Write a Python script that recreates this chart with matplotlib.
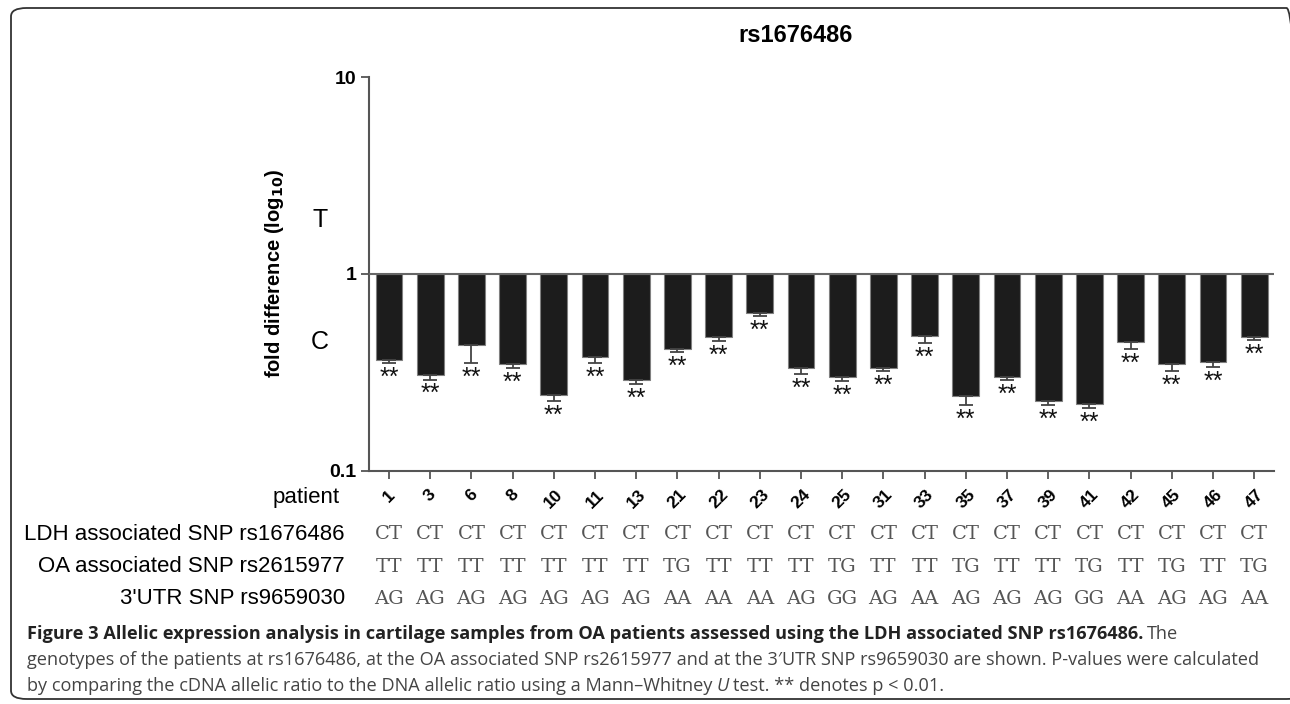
import numpy as np
import matplotlib
matplotlib.use("Agg")
import matplotlib.pyplot as plt
from matplotlib import transforms
from matplotlib.patches import FancyBboxPatch

plt.rcParams['font.family'] = ['Liberation Sans', 'DejaVu Sans']

# data
patients = ['1', '3', '6', '8', '10', '11', '13', '21', '22', '23', '24',
            '25', '31', '33', '35', '37', '39', '41', '42', '45', '46', '47']
fold = [0.365, 0.306, 0.435, 0.349, 0.243, 0.378, 0.289, 0.415, 0.479, 0.631, 0.330,
        0.297, 0.333, 0.485, 0.240, 0.299, 0.225, 0.217, 0.448, 0.349, 0.355, 0.479]
err_low = [0.350, 0.290, 0.352, 0.330, 0.226, 0.352, 0.274, 0.401, 0.453, 0.610, 0.310,
           0.285, 0.320, 0.443, 0.214, 0.287, 0.214, 0.207, 0.416, 0.320, 0.336, 0.460]

row_labels = ['LDH associated SNP rs1676486', 'OA associated SNP rs2615977',
              "3'UTR SNP rs9659030"]
ldh = ['CT'] * 22
oa = ['TT', 'TT', 'TT', 'TT', 'TT', 'TT', 'TT', 'TG', 'TT', 'TT', 'TT',
      'TG', 'TT', 'TT', 'TG', 'TT', 'TT', 'TG', 'TT', 'TG', 'TT', 'TG']
utr = ['AG', 'AG', 'AG', 'AG', 'AG', 'AG', 'AG', 'AA', 'AA', 'AA', 'AG',
       'GG', 'AG', 'AA', 'AG', 'AG', 'AG', 'GG', 'AA', 'AG', 'AG', 'AA']

W, H = 1290, 704
fig = plt.figure(figsize=(W / 100, H / 100), dpi=100)

def fx(x):
    return x / W

def fy(y):
    return 1 - y / H

# rounded frame
frame = FancyBboxPatch((fx(11), fy(699)), fx(1302) - fx(11), fy(8) - fy(699),
                       boxstyle="round,pad=0,rounding_size=0.012",
                       transform=fig.transFigure, fill=False,
                       edgecolor='#333333', lw=1.3, clip_on=False)
fig.patches.append(frame)

ax = fig.add_axes([fx(369), fy(470.5), fx(1274) - fx(369), fy(77) - fy(470.5)])
x = np.arange(len(patients))
fold = np.array(fold)
lower = fold - np.array(err_low)

ax.set_yscale('log')
ax.bar(x, fold - 1, bottom=1, width=0.65, color='#1c1c1c',
       edgecolor='#808080', lw=0.8, zorder=2)
ax.errorbar(x, fold, yerr=[lower, np.zeros_like(lower)], fmt='none',
            ecolor='#444444', elinewidth=1.3, capsize=5, capthick=1.3, zorder=3)
ax.axhline(1, color='#666666', lw=1.5, zorder=4)

for i, v in enumerate(err_low):
    ax.annotate('**', xy=(i, v), xytext=(0, -2), textcoords='offset points',
                ha='center', va='top', fontsize=18, color='#111111')

ax.set_xlim(-0.485, 21.48)
ax.set_ylim(0.1, 10)
ax.set_yticks([0.1, 1, 10])
ax.set_yticklabels(['0.1', '1', '10'])
ax.yaxis.set_minor_locator(matplotlib.ticker.NullLocator())
ax.set_xticks(x)
ax.set_xticklabels(patients, rotation=45, ha='center', va='top')
ax.tick_params(axis='both', direction='out', length=6, width=1.3,
               color='#555555', pad=6)
ax.tick_params(axis='y', labelsize=14, pad=3)
ax.tick_params(axis='x', labelsize=12.5)
for lab in ax.get_yticklabels() + ax.get_xticklabels():
    lab.set_fontweight('bold')
for s in ['top', 'right']:
    ax.spines[s].set_visible(False)
for s in ['left', 'bottom']:
    ax.spines[s].set_color('#555555')
    ax.spines[s].set_linewidth(1.5)

fig.text(fx(796), fy(36), 'rs1676486', ha='center', va='center',
         fontsize=17, fontweight='bold')
fig.text(fx(275), fy(273), r'fold difference (log$_{\mathbf{10}}$)', rotation=90,
         ha='center', va='center', fontsize=14.5, fontweight='bold')
fig.text(fx(320), fy(220), 'T', ha='center', va='center', fontsize=18)
fig.text(fx(320), fy(342), 'C', ha='center', va='center', fontsize=18)
fig.text(fx(340), fy(497), 'patient', ha='right', va='center', fontsize=16)

# genotype table under the axis
tr = transforms.blended_transform_factory(ax.transData, fig.transFigure)
for r, (lab, vals) in enumerate(zip(row_labels, [ldh, oa, utr])):
    yy = fy(534 + 32.5 * r)
    fig.text(fx(345), yy, lab, ha='right', va='center', fontsize=16)
    for i, g in enumerate(vals):
        ax.text(i, yy, g, transform=tr, ha='center', va='center',
                fontsize=14, family='DejaVu Serif', color='#555555')

# caption
cap_font = ['Liberation Sans Narrow', 'Open Sans', 'DejaVu Sans']
renderer = fig.canvas.get_renderer()

def chain(x0, y0, parts, size=13.1):
    xp = x0
    for s, weight, style, col in parts:
        t = fig.text(fx(xp), fy(y0), s, ha='left', va='center', fontsize=size,
                     family=cap_font, fontweight=weight, fontstyle=style, color=col)
        bb = t.get_window_extent(renderer)
        xp = bb.x1 + size * 0.3

chain(27, 634, [('Figure 3 Allelic expression analysis in cartilage samples from OA '
                 'patients assessed using the LDH associated SNP rs1676486.',
                 'bold', 'normal', '#222222'),
                ('The', 'normal', 'normal', '#444444')])
chain(27, 660, [('genotypes of the patients at rs1676486, at the OA associated SNP '
                 'rs2615977 and at the 3\u2032UTR SNP rs9659030 are shown. '
                 'P-values were calculated', 'normal', 'normal', '#444444')])
chain(27, 686, [('by comparing the cDNA allelic ratio to the DNA allelic ratio using '
                 'a Mann\u2013Whitney', 'normal', 'normal', '#444444'),
                ('U', 'normal', 'italic', '#444444'),
                ('test. ** denotes p < 0.01.', 'normal', 'normal', '#444444')])

fig.savefig('out.png', dpi=100)
